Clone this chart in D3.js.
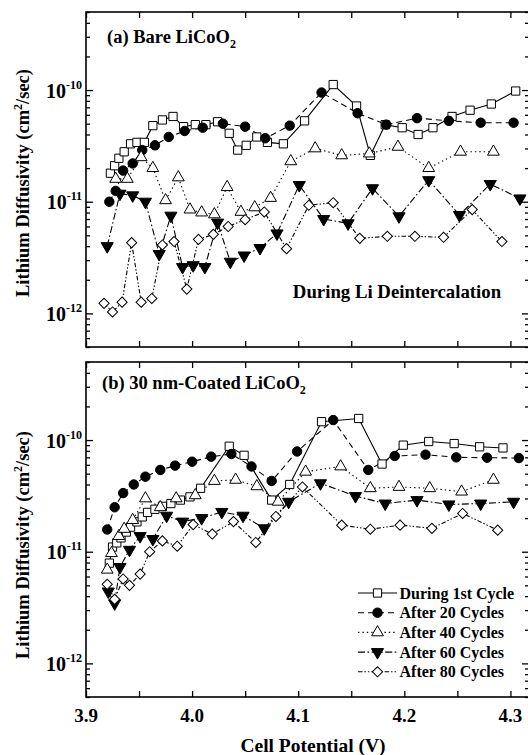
<!DOCTYPE html>
<html><head><meta charset="utf-8">
<script src="https://cdn.jsdelivr.net/npm/d3@7"></script>
<style>
body{margin:0;background:#fff}
text{font-family:"Liberation Serif","Times New Roman",serif;font-weight:bold;fill:#000}
</style>
</head><body>
<svg id="chart" width="528" height="755" xmlns="http://www.w3.org/2000/svg"></svg>
<script>
// ---------- data ----------
const seriesNames = ["During 1st Cycle","After 20 Cycles","After 40 Cycles","After 60 Cycles","After 80 Cycles"];
const xTickValues = [3.9,3.95,4.0,4.05,4.1,4.15,4.2,4.25,4.3];
const xTickLabels = ["3.9","","4.0","","4.1","","4.2","","4.3"];
const yDecades = [-12,-11,-10];
const xLabel = "Cell Potential (V)";

const bare1st = [[3.923,1.8e-11],[3.927,2.1e-11],[3.931,2.45e-11],[3.936,2.8e-11],[3.942,3.3e-11],[3.948,3.4e-11],[3.955,3.4e-11],[3.963,4.8e-11],[3.972,5.4e-11],[3.982,5.8e-11],[3.992,4.7e-11],[4.003,4.9e-11],[4.013,4.9e-11],[4.024,5.2e-11],[4.035,4.1e-11],[4.043,2.9e-11],[4.051,3.2e-11],[4.061,3.8e-11],[4.071,3.4e-11],[4.086,3.3e-11],[4.106,5.3e-11],[4.133,1.12e-10],[4.155,7.2e-11],[4.168,2.6e-11],[4.182,4.9e-11],[4.198,4.6e-11],[4.213,4.0e-11],[4.227,4.6e-11],[4.245,5.8e-11],[4.262,6.6e-11],[4.282,7.5e-11],[4.305,9.8e-11]];
const bare20 = [[3.922,1.0e-11],[3.928,1.25e-11],[3.935,1.9e-11],[3.944,2.2e-11],[3.953,2.9e-11],[3.965,3.2e-11],[3.978,3.8e-11],[3.993,4.3e-11],[4.010,4.6e-11],[4.029,5.0e-11],[4.050,4.7e-11],[4.069,3.7e-11],[4.092,4.8e-11],[4.122,9.5e-11],[4.156,6.2e-11],[4.183,4.9e-11],[4.212,5.6e-11],[4.242,5.3e-11],[4.272,5.1e-11],[4.303,5.1e-11]];
const bare40 = [[3.928,1.6e-11],[3.939,1.6e-11],[3.952,2.5e-11],[3.963,2.0e-11],[3.975,1.03e-11],[3.987,1.65e-11],[3.998,8.5e-12],[4.009,8.0e-12],[4.021,7.7e-12],[4.033,1.35e-11],[4.046,8.1e-12],[4.059,8.9e-12],[4.074,1.08e-11],[4.093,2.3e-11],[4.116,3.0e-11],[4.141,2.6e-11],[4.167,2.7e-11],[4.194,3.1e-11],[4.223,2.0e-11],[4.253,2.8e-11],[4.284,2.8e-11]];
const bare60 = [[3.920,4.0e-12],[3.932,1.18e-11],[3.944,1.14e-11],[3.956,1.0e-11],[3.969,3.4e-12],[3.980,7.5e-12],[3.991,2.6e-12],[4.001,2.7e-12],[4.012,2.6e-12],[4.024,6.5e-12],[4.036,2.9e-12],[4.049,3.3e-12],[4.064,3.85e-12],[4.080,5.2e-12],[4.101,1.41e-11],[4.124,7.0e-12],[4.147,6.4e-12],[4.170,1.32e-11],[4.195,7.4e-12],[4.223,1.56e-11],[4.252,7.6e-12],[4.281,1.44e-11],[4.309,1.07e-11]];
const bare80 = [[3.917,1.23e-12],[3.925,1.03e-12],[3.934,1.26e-12],[3.943,4.3e-12],[3.952,1.26e-12],[3.962,1.36e-12],[3.972,4.1e-12],[3.983,4.4e-12],[3.995,1.65e-12],[4.006,4.6e-12],[4.020,5.1e-12],[4.034,6.0e-12],[4.050,6.9e-12],[4.068,8.1e-12],[4.089,3.8e-12],[4.110,9.3e-12],[4.133,9.8e-12],[4.158,4.7e-12],[4.184,4.9e-12],[4.210,4.9e-12],[4.237,4.8e-12],[4.264,8.5e-12],[4.292,4.4e-12]];

const coated1st = [[3.922,7.9e-12],[3.925,1.1e-11],[3.929,1.2e-11],[3.933,1.33e-11],[3.938,1.5e-11],[3.942,1.66e-11],[3.948,1.85e-11],[3.953,2.05e-11],[3.958,2.25e-11],[3.965,2.4e-11],[3.972,2.55e-11],[3.980,2.7e-11],[3.989,2.9e-11],[3.998,3.1e-11],[4.008,3.7e-11],[4.035,8.8e-11],[4.049,7.3e-11],[4.075,2.9e-11],[4.092,4.0e-11],[4.122,1.46e-10],[4.157,1.56e-10],[4.179,6.1e-11],[4.199,9.0e-11],[4.223,9.7e-11],[4.247,9.3e-11],[4.271,8.7e-11],[4.293,8.5e-11]];
const coated20 = [[3.920,1.58e-11],[3.927,2.5e-11],[3.935,3.35e-11],[3.945,4.0e-11],[3.956,4.7e-11],[3.970,5.4e-11],[3.984,5.9e-11],[4.000,6.4e-11],[4.018,7.1e-11],[4.037,7.5e-11],[4.056,5.8e-11],[4.075,4.3e-11],[4.099,7.9e-11],[4.133,1.51e-10],[4.166,5.4e-11],[4.191,7.2e-11],[4.220,7.4e-11],[4.249,7.0e-11],[4.278,6.95e-11],[4.308,6.9e-11]];
const coated40 = [[3.920,6.9e-12],[3.924,9.7e-12],[3.931,1.38e-11],[3.936,1.6e-11],[3.944,1.92e-11],[3.956,3.0e-11],[3.970,2.5e-11],[3.985,3.0e-11],[4.003,3.2e-11],[4.021,4.3e-11],[4.041,4.4e-11],[4.061,3.85e-11],[4.081,2.8e-11],[4.107,5.2e-11],[4.140,5.8e-11],[4.168,3.7e-11],[4.195,3.8e-11],[4.224,3.7e-11],[4.254,3.45e-11],[4.284,4.4e-11]];
const coated60 = [[3.921,4.4e-12],[3.927,3.45e-12],[3.932,7.3e-12],[3.941,1.04e-11],[3.951,1.38e-11],[3.963,1.3e-11],[3.976,2.1e-11],[3.991,1.86e-11],[4.009,2.0e-11],[4.028,2.27e-11],[4.048,2.1e-11],[4.068,1.62e-11],[4.091,2.8e-11],[4.121,4.1e-11],[4.154,3.15e-11],[4.182,2.7e-11],[4.212,2.9e-11],[4.242,2.65e-11],[4.272,2.7e-11],[4.303,2.8e-11]];
const coated80 = [[3.920,5.1e-12],[3.927,3.75e-12],[3.935,5.7e-12],[3.941,5.0e-12],[3.951,6.3e-12],[3.960,1.0e-11],[3.972,1.25e-11],[3.986,1.12e-11],[4.001,1.75e-11],[4.019,1.44e-11],[4.039,1.86e-11],[4.060,1.21e-11],[4.079,2.07e-11],[4.104,3.8e-11],[4.141,1.73e-11],[4.168,1.59e-11],[4.196,1.73e-11],[4.226,1.62e-11],[4.255,2.2e-11],[4.288,1.56e-11]];

// ---------- styles ----------
const dashes = [null, "6,4", "1.4,3", "7,2.5,1.6,2.5", "4.5,2,1.4,2,1.4,2"];
const symbolDefs = [
  {type: d3.symbolSquare, size: 68, rot: 0, fill: "#fff"},
  {type: d3.symbolCircle, size: 70, rot: 0, fill: "#000"},
  {type: d3.symbolTriangle, size: 60, rot: 0, fill: "#fff"},
  {type: d3.symbolTriangle, size: 64, rot: 180, fill: "#000"},
  {type: d3.symbolSquare, size: 52, rot: 45, fill: "#fff"}
];

const svg = d3.select("#chart");
svg.append("rect").attr("width",528).attr("height",755).attr("fill","#fff");

const X0 = 86, X1 = 529;
const x = d3.scaleLinear().domain([3.9, 3.9 + (X1 - X0) / 1061]).range([X0, X1]);

function drawPanel(pTop, pBottom, seriesList, opts) {
  const y = d3.scaleLog().domain([5e-13, 5e-10]).range([pBottom, pTop]);
  const g = svg.append("g");
  const allTicks = y.ticks();
  const major = allTicks.filter(v => Math.abs(Math.log10(v) - Math.round(Math.log10(v))) < 1e-9);
  const minor = allTicks.filter(v => !major.includes(v));

  [[d3.axisLeft, X0], [d3.axisRight, X1]].forEach(([fn, tx]) => {
    g.append("g").attr("transform", `translate(${tx},0)`)
      .call(fn(y).tickValues(minor).tickSizeInner(-4).tickSizeOuter(0).tickFormat(""))
      .call(s => s.select(".domain").remove());
    g.append("g").attr("transform", `translate(${tx},0)`)
      .call(fn(y).tickValues(major).tickSizeInner(-7).tickSizeOuter(0).tickFormat(""))
      .call(s => s.select(".domain").remove());
  });
  g.append("g").attr("transform", `translate(0,${pTop})`)
    .call(d3.axisTop(x).tickValues(xTickValues).tickSizeInner(-6).tickSizeOuter(0).tickFormat(""))
    .call(s => s.select(".domain").remove());
  g.append("g").attr("transform", `translate(0,${pBottom})`)
    .call(d3.axisBottom(x).tickValues(xTickValues).tickSizeInner(-6).tickSizeOuter(0).tickFormat(""))
    .call(s => s.select(".domain").remove());
  g.selectAll(".tick line").attr("stroke","#000").attr("stroke-width",1.3);

  g.append("rect").attr("x",X0).attr("y",pTop).attr("width",X1-X0).attr("height",pBottom-pTop)
    .attr("fill","none").attr("stroke","#000").attr("stroke-width",1.6);

  major.forEach(v => {
    const t = g.append("text").attr("x", X0 - 4).attr("y", y(v) + 7.5)
      .attr("text-anchor","end").style("font-size","20px");
    t.append("tspan").text("10");
    t.append("tspan").attr("dy",-9).style("font-size","12px").text("-" + Math.abs(Math.round(Math.log10(v))));
  });

  const yt = g.append("text").attr("transform", `translate(29,${opts.titleY}) rotate(-90)`)
    .attr("text-anchor","middle").style("font-size","18.5px");
  yt.append("tspan").text("Lithium Diffusivity (cm");
  yt.append("tspan").attr("dy",-7).style("font-size","12px").text("2");
  yt.append("tspan").attr("dy",7).text("/sec)");

  const pl = g.append("text").attr("x", opts.labelX).attr("y", opts.labelY).style("font-size","18.5px");
  pl.append("tspan").text(opts.label);
  pl.append("tspan").attr("dy",5).style("font-size","12px").text("2");

  const line = d3.line().x(d => x(d[0])).y(d => y(d[1]));
  seriesList.forEach((data, i) => {
    g.append("path").datum(data).attr("d", line)
      .attr("fill","none").attr("stroke","#000").attr("stroke-width",1.1)
      .attr("stroke-dasharray", dashes[i]);
  });
  seriesList.forEach((data, i) => {
    const sd = symbolDefs[i];
    g.append("g").selectAll("path").data(data).join("path")
      .attr("d", d3.symbol(sd.type, sd.size))
      .attr("transform", d => `translate(${x(d[0])},${y(d[1])}) rotate(${sd.rot})`)
      .attr("fill", sd.fill).attr("stroke","#000").attr("stroke-width",1);
  });
  return g;
}

const panelA = drawPanel(12, 347, [bare1st, bare20, bare40, bare60, bare80],
  {label: "(a) Bare LiCoO", labelX: 107, labelY: 43, titleY: 183});
panelA.append("text").attr("x", 397).attr("y", 298).attr("text-anchor","middle")
  .style("font-size","18.8px").text("During Li Deintercalation");

const panelB = drawPanel(362, 697, [coated1st, coated20, coated40, coated60, coated80],
  {label: "(b) 30 nm-Coated LiCoO", labelX: 102, labelY: 389, titleY: 545});

xTickValues.forEach((v, i) => {
  if (!xTickLabels[i]) return;
  svg.append("text").attr("x", x(v)).attr("y", 722).attr("text-anchor","middle")
    .style("font-size","19px").text(xTickLabels[i]);
});
svg.append("text").attr("x", 313).attr("y", 752).attr("text-anchor","middle")
  .style("font-size","19.5px").text(xLabel);

const lg = svg.append("g");
seriesNames.forEach((name, i) => {
  const cy = 593 + i * 19.7;
  lg.append("line").attr("x1",358).attr("x2",397).attr("y1",cy).attr("y2",cy)
    .attr("stroke","#000").attr("stroke-width",1.1).attr("stroke-dasharray", dashes[i]);
  const sd = symbolDefs[i];
  lg.append("path").attr("d", d3.symbol(sd.type, sd.size))
    .attr("transform", `translate(377.5,${cy}) rotate(${sd.rot})`)
    .attr("fill", sd.fill).attr("stroke","#000").attr("stroke-width",1);
  lg.append("text").attr("x",399.5).attr("y",cy+5.5).style("font-size","16px").text(name);
});
</script>
</body></html>
